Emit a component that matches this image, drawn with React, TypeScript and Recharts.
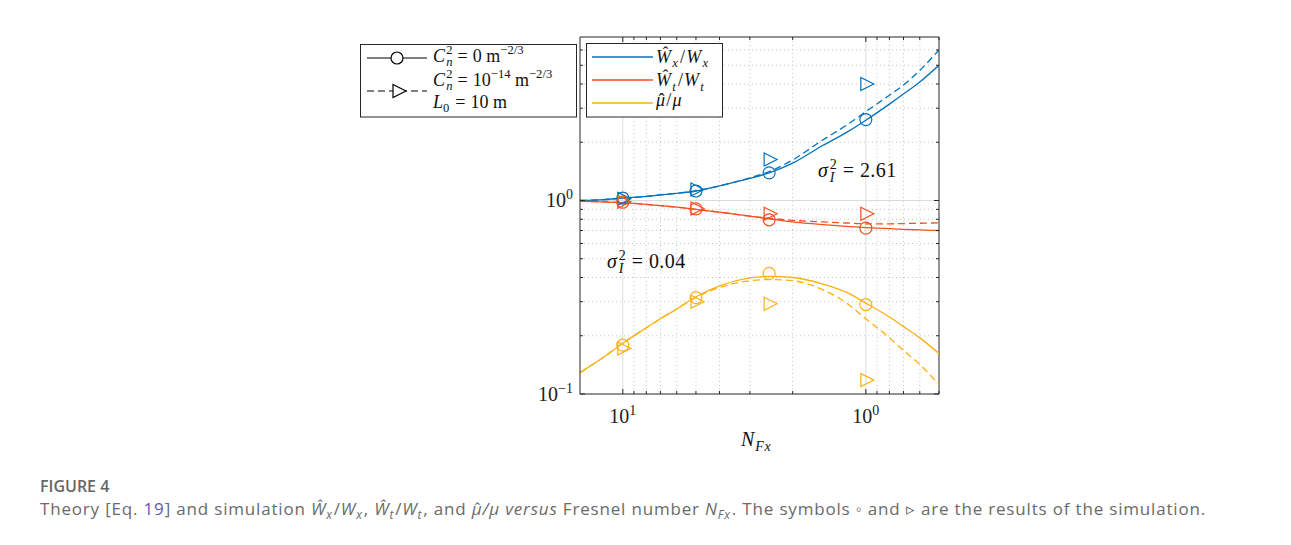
import React from 'react';
import { ComposedChart, Line, Scatter, XAxis, YAxis, CartesianGrid, ReferenceLine } from 'recharts';

const N_LINE = [15, 12, 10, 8, 7, 6, 5, 4, 3, 2.5, 2, 1.5, 1.2, 1, 0.8, 0.7, 0.6, 0.5];

// theory, no turbulence (solid)
const WX_SOLID = [1.0, 1.01, 1.03, 1.05, 1.07, 1.09, 1.12, 1.19, 1.3, 1.39, 1.56, 1.93, 2.25, 2.6, 3.15, 3.55, 4.1, 5.0];
const WT_SOLID = [0.99, 0.985, 0.975, 0.955, 0.94, 0.925, 0.9, 0.87, 0.83, 0.805, 0.775, 0.75, 0.735, 0.725, 0.715, 0.71, 0.705, 0.7];
const MU_SOLID = [0.129, 0.155, 0.183, 0.22, 0.245, 0.275, 0.318, 0.362, 0.398, 0.405, 0.4, 0.37, 0.335, 0.295, 0.25, 0.223, 0.195, 0.162];

// theory, Cn2 = 1e-14 (dashed)
const WX_DASH = [1.0, 1.01, 1.03, 1.05, 1.07, 1.09, 1.12, 1.19, 1.31, 1.41, 1.62, 2.06, 2.45, 2.88, 3.5, 3.95, 4.7, 6.0];
const WT_DASH = [0.99, 0.985, 0.975, 0.955, 0.94, 0.925, 0.9, 0.87, 0.83, 0.81, 0.79, 0.775, 0.765, 0.758, 0.758, 0.76, 0.763, 0.767];
const MU_DASH = [0.129, 0.155, 0.183, 0.22, 0.245, 0.275, 0.316, 0.355, 0.385, 0.39, 0.385, 0.345, 0.295, 0.245, 0.195, 0.168, 0.142, 0.112];

// simulation
const N_SIM = [10, 5, 2.5, 1];
const WX_CIRC = [1.03, 1.12, 1.39, 2.62];
const WX_TRI = [1.02, 1.14, 1.63, 4.0];
const WT_CIRC = [0.98, 0.905, 0.795, 0.72];
const WT_TRI = [0.985, 0.91, 0.855, 0.855];
const MU_CIRC = [0.179, 0.315, 0.42, 0.29];
const MU_TRI = [0.172, 0.3, 0.293, 0.118];

const X_TICKS = [0.5, 0.6, 0.7, 0.8, 0.9, 1, 2, 3, 4, 5, 6, 7, 8, 9, 10];
const X_MAJOR = [1, 10];
const Y_TICKS = [0.1, 0.2, 0.3, 0.4, 0.5, 0.6, 0.7, 0.8, 0.9, 1, 2, 3, 4, 5, 6];
const Y_MAJOR = [0.1, 1];

const BLUE = '#0072BD';
const ORANGE = '#F5511F';
const YELLOW = '#FDB013';
const AX = '#262626';
const SERIF = '"Liberation Serif", "DejaVu Serif", serif';
const SANS = '"Open Sans", "Noto Sans", sans-serif';

// plot box
const TOP = 37;
const BOTTOM = 394;
const LEFT = 580;
const RIGHT = 939;

const pts = (xs: number[], ys: number[]) => xs.map((x, i) => ({ x, y: ys[i] }));

const circleShape = (color: string) => (p: any) => (
  <circle cx={p.cx} cy={p.cy} r={6} fill="none" stroke={color} strokeWidth={1.2} />
);
const triShape = (color: string) => (p: any) => (
  <path d={`M${p.cx - 5},${p.cy - 6.5}L${p.cx + 8},${p.cy}L${p.cx - 5},${p.cy + 6.5}Z`} fill="none" stroke={color} strokeWidth={1.2} />
);

const exp10 = (v: number) => {
  const e = Math.round(Math.log10(v));
  return e < 0 ? '\u2212' + Math.abs(e) : String(e);
};

const XTick = (props: any) => {
  const { x, payload } = props;
  const major = X_MAJOR.includes(payload.value);
  const len = major ? 5 : 3;
  return (
    <g>
      <line x1={x} x2={x} y1={BOTTOM} y2={BOTTOM - len} stroke={AX} />
      <line x1={x} x2={x} y1={TOP} y2={TOP + len} stroke={AX} />
      {major && (
        <text x={x} y={423} textAnchor="middle" fontFamily={SERIF} fontSize={20} fill="#222">
          10<tspan dy={-8} fontSize={14}>{exp10(payload.value)}</tspan>
        </text>
      )}
    </g>
  );
};

const YTick = (props: any) => {
  const { y, payload } = props;
  const major = Y_MAJOR.includes(payload.value);
  const len = major ? 5 : 3;
  return (
    <g>
      <line x1={LEFT} x2={LEFT + len} y1={y} y2={y} stroke={AX} />
      <line x1={RIGHT} x2={RIGHT - len} y1={y} y2={y} stroke={AX} />
      {major && (
        <text x={573} y={y + 6.5} textAnchor="end" fontFamily={SERIF} fontSize={20} fill="#222">
          10<tspan dy={-8} fontSize={14}>{exp10(payload.value)}</tspan>
        </text>
      )}
    </g>
  );
};

// small html math helpers
const Sup = ({ children }: any) => (
  <span style={{ fontSize: '0.7em', position: 'relative', top: '-0.6em' }}>{children}</span>
);
const Sub = ({ children }: any) => (
  <span style={{ fontSize: '0.7em', position: 'relative', top: '0.35em', marginRight: '0.08em' }}>{children}</span>
);
const SupSub = ({ sup, sub }: any) => (
  <span style={{ fontSize: '0.7em', position: 'relative', display: 'inline-block', lineHeight: 1, marginLeft: '0.1em' }}>
    <span style={{ visibility: 'hidden' }}>{sup}</span>
    <span style={{ position: 'absolute', left: 0, top: '-0.6em' }}>{sup}</span>
    <span style={{ position: 'absolute', left: 0, top: '0.35em' }}>{sub}</span>
  </span>
);
const Hat = ({ children }: any) => (
  <span style={{ position: 'relative', display: 'inline-block', lineHeight: 1 }}>
    {children}
    <span style={{ position: 'absolute', left: '0.14em', top: '0.02em', fontStyle: 'normal' }}>{'\u02c6'}</span>
  </span>
);
const Eq = () => <span style={{ margin: '0 0.28em' }}>=</span>;
const MathText = ({ x, base, fs, ls = 0, children }: any) => (
  <div style={{ position: 'absolute', left: x, top: base - 0.837 * fs, fontSize: fs, lineHeight: 1, fontFamily: SERIF, whiteSpace: 'nowrap', color: '#111', letterSpacing: ls }}>
    {children}
  </div>
);

export default function App() {
  return (
    <div style={{ position: 'relative', width: 1291, height: 545, margin: -8, background: '#fff', overflow: 'hidden' }}>
      <div style={{ position: 'absolute', left: 7, top: 5, right: 0, bottom: 0, borderTop: '1.5px solid #cfcfcf', borderLeft: '1.5px solid #cfcfcf' }} />
      <div style={{ position: 'absolute', left: 0, top: 0 }}>
        <ComposedChart width={1291} height={545} margin={{ top: TOP, right: 1291 - RIGHT, bottom: 545 - BOTTOM - 30, left: LEFT - 40 }}>
          <CartesianGrid horizontalValues={[0.2, 0.3, 0.4, 0.5, 0.6, 0.7, 0.8, 0.9, 2, 3, 4, 5, 6]} verticalValues={[0.6, 0.7, 0.8, 0.9, 2, 3, 4, 5, 6, 7, 8, 9]} stroke="#c8c8c8" strokeDasharray="1 3" />
          <CartesianGrid horizontalValues={[1]} verticalValues={[1, 10]} stroke="#dcdcdc" />
          <XAxis dataKey="x" type="number" scale="log" domain={[0.5, 15]} reversed allowDataOverflow ticks={X_TICKS} interval={0} tick={<XTick />} tickLine={false} axisLine={{ stroke: AX }} height={30} />
          <YAxis dataKey="y" type="number" scale="log" domain={[0.1, 7]} allowDataOverflow ticks={Y_TICKS} interval={0} tick={<YTick />} tickLine={false} axisLine={{ stroke: AX }} width={40} />
          <ReferenceLine y={7} stroke={AX} />
          <ReferenceLine x={0.5} stroke={AX} />

          <Line data={pts(N_LINE, WX_SOLID)} dataKey="y" type="monotone" stroke={BLUE} strokeWidth={1.3} dot={false} isAnimationActive={false} />
          <Line data={pts(N_LINE, WX_DASH)} dataKey="y" type="monotone" stroke={BLUE} strokeWidth={1.3} strokeDasharray="7 4" dot={false} isAnimationActive={false} />
          <Line data={pts(N_LINE, WT_SOLID)} dataKey="y" type="monotone" stroke={ORANGE} strokeWidth={1.3} dot={false} isAnimationActive={false} />
          <Line data={pts(N_LINE, WT_DASH)} dataKey="y" type="monotone" stroke={ORANGE} strokeWidth={1.3} strokeDasharray="7 4" dot={false} isAnimationActive={false} />
          <Line data={pts(N_LINE, MU_SOLID)} dataKey="y" type="monotone" stroke={YELLOW} strokeWidth={1.3} dot={false} isAnimationActive={false} />
          <Line data={pts(N_LINE, MU_DASH)} dataKey="y" type="monotone" stroke={YELLOW} strokeWidth={1.3} strokeDasharray="7 4" dot={false} isAnimationActive={false} />

          <Scatter data={pts(N_SIM, WX_CIRC)} shape={circleShape(BLUE)} isAnimationActive={false} />
          <Scatter data={pts(N_SIM, WX_TRI)} shape={triShape(BLUE)} isAnimationActive={false} />
          <Scatter data={pts(N_SIM, WT_CIRC)} shape={circleShape(ORANGE)} isAnimationActive={false} />
          <Scatter data={pts(N_SIM, WT_TRI)} shape={triShape(ORANGE)} isAnimationActive={false} />
          <Scatter data={pts(N_SIM, MU_CIRC)} shape={circleShape(YELLOW)} isAnimationActive={false} />
          <Scatter data={pts(N_SIM, MU_TRI)} shape={triShape(YELLOW)} isAnimationActive={false} />
        </ComposedChart>
      </div>

      {/* legend boxes and line samples */}
      <svg width={1291} height={545} style={{ position: 'absolute', left: 0, top: 0, pointerEvents: 'none' }}>
        <rect x={360.5} y={44.5} width={216} height={72.5} fill="#fff" stroke={AX} />
        <line x1={367} x2={427} y1={58} y2={58} stroke="#000" strokeWidth={1.2} />
        <circle cx={397} cy={58} r={6} fill="#fff" stroke="#000" strokeWidth={1.2} />
        <line x1={367} x2={427} y1={91} y2={91} stroke="#000" strokeWidth={1.2} strokeDasharray="7 4" />
        <path d="M393,84.5L406,91L393,97.5Z" fill="#fff" stroke="#000" strokeWidth={1.2} />

        <rect x={586.5} y={43.5} width={136} height={73.5} fill="#fff" stroke={AX} />
        <line x1={592} x2={653} y1={57} y2={57} stroke={BLUE} strokeWidth={1.3} />
        <line x1={592} x2={653} y1={80} y2={80} stroke={ORANGE} strokeWidth={1.3} />
        <line x1={592} x2={653} y1={103} y2={103} stroke={YELLOW} strokeWidth={1.3} />
      </svg>

      <MathText x={433} base={62} fs={18}>
        <i>C</i><SupSub sup="2" sub={<i>n</i>} /><Eq />0 m<Sup>{'\u2212'}2/3</Sup>
      </MathText>
      <MathText x={433} base={86} fs={18}>
        <i>C</i><SupSub sup="2" sub={<i>n</i>} /><Eq />10<Sup>{'\u2212'}14</Sup> m<Sup>{'\u2212'}2/3</Sup>
      </MathText>
      <MathText x={433} base={108} fs={18}>
        <i>L</i><Sub>0</Sub><Eq />10 m
      </MathText>

      <MathText x={656} base={63} fs={18} ls={1.2}>
        <i>{'\u0174'}</i><Sub><i>x</i></Sub>/<i>W</i><Sub><i>x</i></Sub>
      </MathText>
      <MathText x={656} base={86.5} fs={18} ls={1.2}>
        <i>{'\u0174'}</i><Sub><i>t</i></Sub>/<i>W</i><Sub><i>t</i></Sub>
      </MathText>
      <MathText x={656} base={106} fs={18} ls={1.2}>
        <Hat><i>{'\u03bc'}</i></Hat>/<i>{'\u03bc'}</i>
      </MathText>

      <MathText x={818} base={177} fs={20} ls={0.4}>
        <i>{'\u03c3'}</i><SupSub sup="2" sub={<i>I</i>} /><Eq />2.61
      </MathText>
      <MathText x={607} base={268} fs={20} ls={0.4}>
        <i>{'\u03c3'}</i><SupSub sup="2" sub={<i>I</i>} /><Eq />0.04
      </MathText>

      <MathText x={741} base={446} fs={20} ls={0.8}>
        <i>N</i><Sub><i>Fx</i></Sub>
      </MathText>

      <div style={{ position: 'absolute', left: 40, top: 492 - 0.888 * 16, fontFamily: SANS, fontSize: 16, lineHeight: 1, fontWeight: 600, color: '#666' }}>
        FIGURE 4
      </div>
      <div style={{ position: 'absolute', left: 40, top: 515 - 0.888 * 17, fontFamily: SANS, fontSize: 17, lineHeight: 1, color: '#6a6a6a', whiteSpace: 'nowrap', letterSpacing: 0.82 }}>
        Theory [Eq. <span style={{ color: '#5b5bb0' }}>19</span>] and simulation <i>{'\u0174'}</i><Sub><i>x</i></Sub>/<i>W</i><Sub><i>x</i></Sub>,{' '}
        <i>{'\u0174'}</i><Sub><i>t</i></Sub>/<i>W</i><Sub><i>t</i></Sub>, and <i><Hat>{'\u03bc'}</Hat>/{'\u03bc'} versus</i> Fresnel number{' '}
        <i>N</i><Sub><i>Fx</i></Sub>. The symbols {'\u25e6'} and {'\u25b9'} are the results of the simulation.
      </div>
    </div>
  );
}
